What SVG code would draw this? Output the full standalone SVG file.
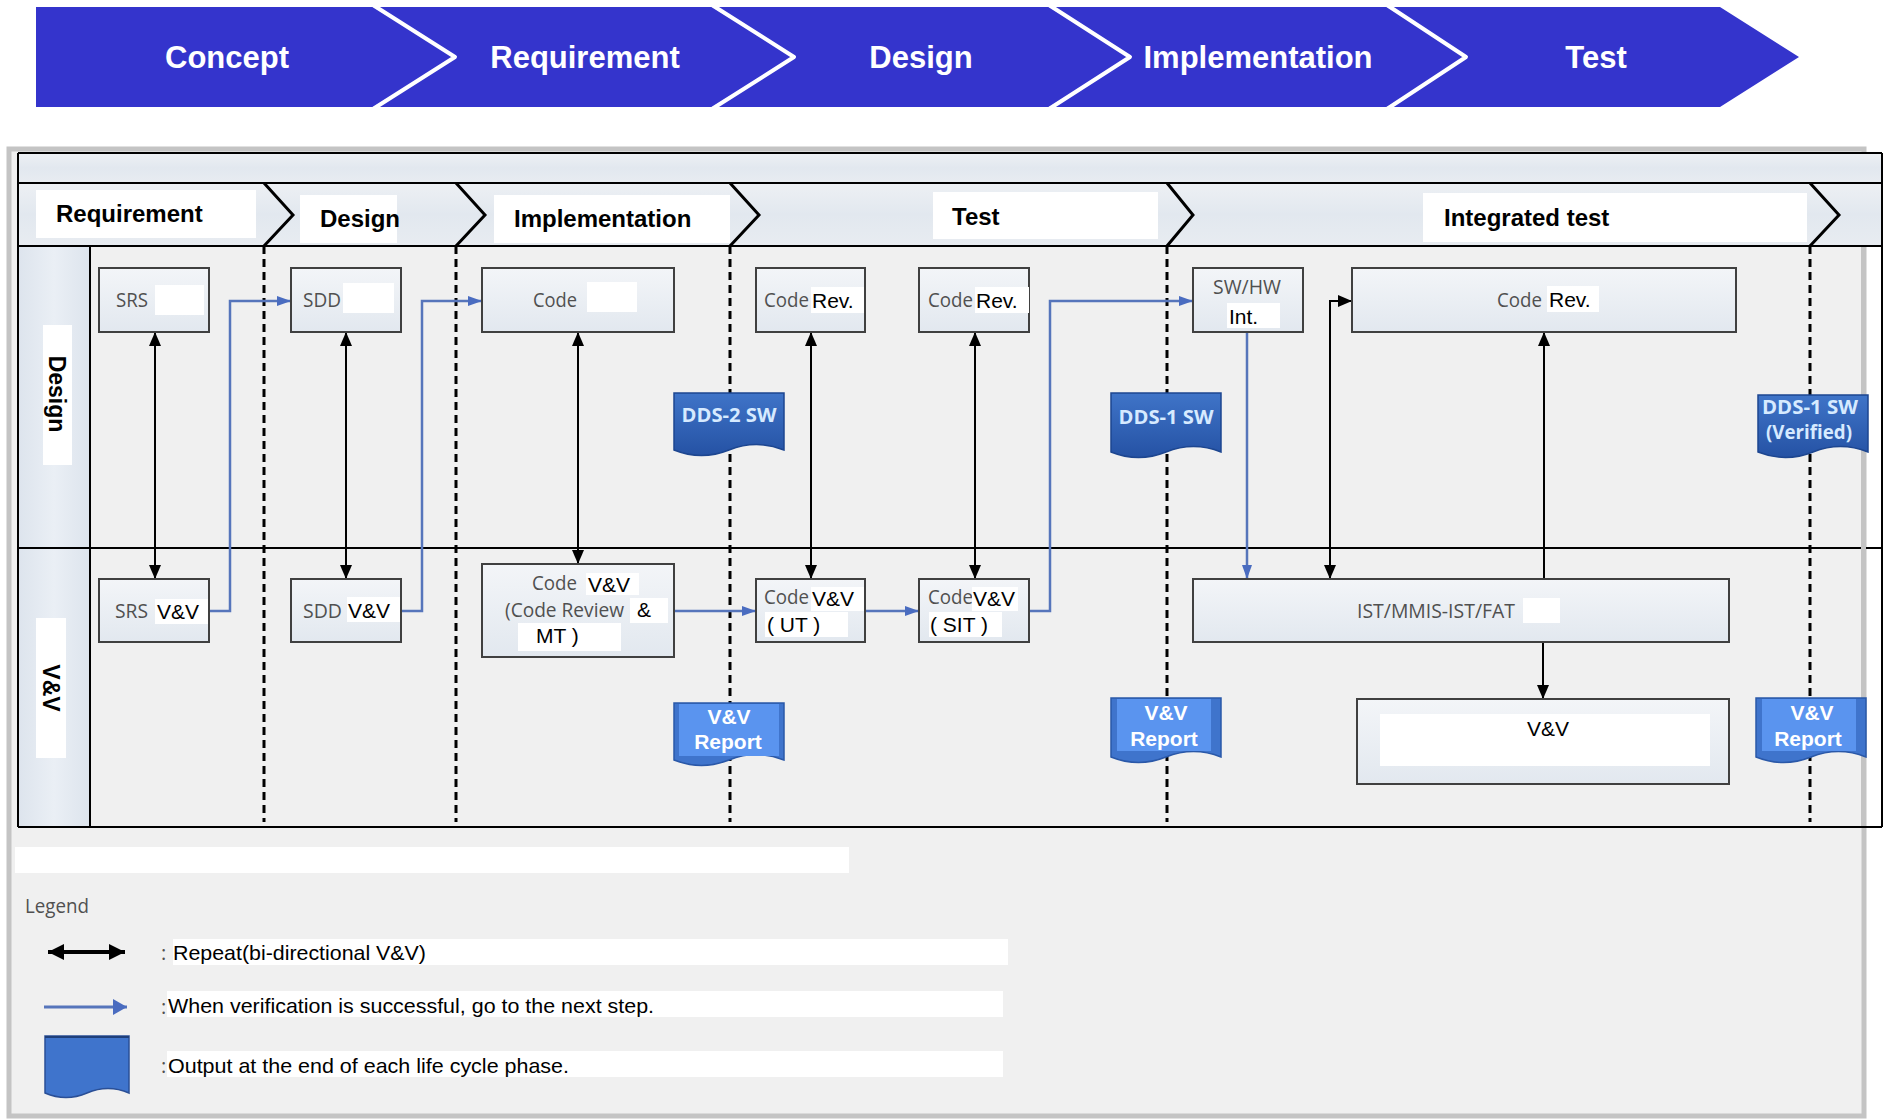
<svg xmlns="http://www.w3.org/2000/svg" width="1888" height="1119" viewBox="0 0 1888 1119">
  <defs>
    <linearGradient id="boxg" x1="0" y1="0" x2="0" y2="1">
      <stop offset="0" stop-color="#f3f5f8"/>
      <stop offset="1" stop-color="#e2e8ef"/>
    </linearGradient>
    <linearGradient id="hdrg" x1="0" y1="0" x2="0" y2="1">
      <stop offset="0" stop-color="#edf0f4"/>
      <stop offset="0.5" stop-color="#e2e8ef"/>
      <stop offset="1" stop-color="#e8ecf1"/>
    </linearGradient>
    <linearGradient id="laneg" x1="0" y1="0" x2="1" y2="0">
      <stop offset="0" stop-color="#dde4ed"/>
      <stop offset="0.5" stop-color="#eaeff5"/>
      <stop offset="1" stop-color="#dde4ed"/>
    </linearGradient>
    <linearGradient id="ddsg" x1="0" y1="0" x2="0" y2="1">
      <stop offset="0" stop-color="#3f74c8"/>
      <stop offset="1" stop-color="#2552a4"/>
    </linearGradient>
    <marker id="ah" viewBox="0 0 14 12" refX="14" refY="6" markerWidth="14" markerHeight="12" markerUnits="userSpaceOnUse" orient="auto-start-reverse">
      <path d="M0,0 L14,6 L0,12 z" fill="#000"/>
    </marker>
    <marker id="ahb" viewBox="0 0 14 10" refX="14" refY="5" markerWidth="14" markerHeight="10" markerUnits="userSpaceOnUse" orient="auto">
      <path d="M0,0 L14,5 L0,10 z" fill="#4a6cc0"/>
    </marker>
    <marker id="ahbL" viewBox="0 0 14 16" refX="14" refY="8" markerWidth="14" markerHeight="16" markerUnits="userSpaceOnUse" orient="auto">
      <path d="M0,0 L14,8 L0,16 z" fill="#4a6cc0"/>
    </marker>
    <marker id="ahL" viewBox="0 0 16 16" refX="16" refY="8" markerWidth="16" markerHeight="16" markerUnits="userSpaceOnUse" orient="auto-start-reverse">
      <path d="M0,0 L16,8 L0,16 z" fill="#000"/>
    </marker>
    <style>
      .ban { font-family: "Liberation Sans", Arial, sans-serif; font-weight: bold; font-size: 31px; fill: #fff; text-anchor: middle; }
      .seg { fill: #3434cc; }
      .sep { fill: none; stroke: #fff; stroke-width: 4; stroke-linejoin: round; }
      .tline { fill: none; stroke: #000; stroke-width: 2; }
      .chev { fill: none; stroke: #000; stroke-width: 3; }
      .hd { font-family: "Liberation Sans", Arial, sans-serif; font-weight: bold; font-size: 24px; fill: #000; }
      .lane { font-family: "Liberation Sans", Arial, sans-serif; font-weight: bold; font-size: 23px; fill: #000; text-anchor: middle; }
      .box { fill: url(#boxg); stroke: #404040; stroke-width: 2; }
      .patch { fill: #fff; }
      .g { font-family: "Open Sans", "Liberation Sans", sans-serif; font-size: 20px; fill: #505050; }
      .k { font-family: "Liberation Sans", Arial, sans-serif; font-size: 21px; fill: #000; }
      .dash { stroke: #000; stroke-width: 3; stroke-dasharray: 8 5; }
      .blk { fill: none; stroke: #000; stroke-width: 2; }
      .blu { fill: none; stroke: #5675bb; stroke-width: 2.5; }
      .dds { fill: url(#ddsg); stroke: #1d4690; stroke-width: 1.5; }
      .ddst { font-family: "Open Sans", "Liberation Sans", sans-serif; font-weight: bold; font-size: 19px; fill: #d6eaff; text-anchor: middle; }
      .rep { fill: #3f74cc; stroke: #2a58a8; stroke-width: 1.5; }
      .repin { fill: #5a94ef; }
      .rept { font-family: "Liberation Sans", Arial, sans-serif; font-weight: bold; font-size: 21px; fill: #fff; text-anchor: middle; }
    </style>
  </defs>

  <!-- life-cycle phase banner -->
  <g id="banner">
    <polygon class="seg" points="36,7 373,7 455,57 373,107 36,107"/>
    <polygon class="seg" points="373,7 712,7 794,57 712,107 373,107 455,57"/>
    <polygon class="seg" points="712,7 1049,7 1130,57 1049,107 712,107 794,57"/>
    <polygon class="seg" points="1049,7 1387,7 1466,57 1387,107 1049,107 1130,57"/>
    <polygon class="seg" points="1387,7 1720,7 1799,57 1720,107 1387,107 1466,57"/>
    <polyline class="sep" points="373,5 455,57 373,109"/>
    <polyline class="sep" points="712,5 794,57 712,109"/>
    <polyline class="sep" points="1049,5 1130,57 1049,109"/>
    <polyline class="sep" points="1387,5 1466,57 1387,109"/>
    <text class="ban" x="227" y="68">Concept</text>
    <text class="ban" x="585" y="68">Requirement</text>
    <text class="ban" x="921" y="68">Design</text>
    <text class="ban" x="1258" y="68">Implementation</text>
    <text class="ban" x="1596" y="68">Test</text>
  </g>

  <!-- outer frame -->
  <rect x="9" y="149" width="1855" height="967" fill="#f0f0f0" stroke="#c4c4c4" stroke-width="5"/>

  <!-- swimlane table -->
  <g id="table">
    <rect x="18" y="153" width="1864" height="30" fill="url(#hdrg)"/>
    <rect x="18" y="183" width="1864" height="63" fill="url(#hdrg)"/>
    <rect x="18" y="246" width="72" height="581" fill="url(#laneg)"/>
    <line class="tline" x1="18" y1="153" x2="1882" y2="153"/>
    <line class="tline" x1="18" y1="183" x2="1882" y2="183"/>
    <line class="tline" x1="18" y1="246" x2="1882" y2="246"/>
    <line class="tline" x1="18" y1="548" x2="1882" y2="548"/>
    <line class="tline" x1="18" y1="827" x2="1882" y2="827"/>
    <line class="tline" x1="18" y1="153" x2="18" y2="827"/>
    <line class="tline" x1="1882" y1="153" x2="1882" y2="827"/>
    <line class="tline" x1="90" y1="246" x2="90" y2="827"/>

    <!-- phase headers -->
    <rect class="patch" x="36" y="190" width="220" height="48"/>
    <rect class="patch" x="300" y="195" width="97" height="48"/>
    <rect class="patch" x="494" y="195" width="236" height="48"/>
    <rect class="patch" x="933" y="192" width="225" height="47"/>
    <rect class="patch" x="1423" y="193" width="384" height="49"/>
    <text class="hd" x="56" y="222">Requirement</text>
    <text class="hd" x="320" y="227">Design</text>
    <text class="hd" x="514" y="227">Implementation</text>
    <text class="hd" x="952" y="225">Test</text>
    <text class="hd" x="1444" y="226">Integrated test</text>
    <polyline class="chev" points="264,183 293,215 264,246"/>
    <polyline class="chev" points="456,183 485,215 456,246"/>
    <polyline class="chev" points="730,183 759,215 730,246"/>
    <polyline class="chev" points="1167,183 1193,215 1167,246"/>
    <polyline class="chev" points="1810,183 1839,215 1810,246"/>

    <!-- lane labels -->
    <rect class="patch" x="43" y="325" width="29" height="140"/>
    <text class="lane" transform="translate(57,394) rotate(90)" dy="8">Design</text>
    <rect class="patch" x="36" y="618" width="30" height="140"/>
    <text class="lane" transform="translate(51,688) rotate(90)" dy="8">V&amp;V</text>

    <!-- phase boundaries -->
    <line class="dash" x1="264" y1="246" x2="264" y2="822"/>
    <line class="dash" x1="456" y1="246" x2="456" y2="822"/>
    <line class="dash" x1="730" y1="246" x2="730" y2="822"/>
    <line class="dash" x1="1167" y1="246" x2="1167" y2="822"/>
    <line class="dash" x1="1810" y1="246" x2="1810" y2="822"/>
    <!-- frame edge seen through the lanes -->
    <rect x="1861" y="247" width="5" height="579" fill="#c4c4c4"/>
  </g>

  <!-- connectors -->
  <g id="connectors">
    <line class="blk" x1="155" y1="332" x2="155" y2="579" marker-start="url(#ah)" marker-end="url(#ah)"/>
    <line class="blk" x1="346" y1="332" x2="346" y2="579" marker-start="url(#ah)" marker-end="url(#ah)"/>
    <line class="blk" x1="578" y1="332" x2="578" y2="564" marker-start="url(#ah)" marker-end="url(#ah)"/>
    <line class="blk" x1="811" y1="332" x2="811" y2="579" marker-start="url(#ah)" marker-end="url(#ah)"/>
    <line class="blk" x1="975" y1="332" x2="975" y2="579" marker-start="url(#ah)" marker-end="url(#ah)"/>
    <polyline class="blk" points="1330,579 1330,301 1352,301" marker-start="url(#ah)" marker-end="url(#ah)"/>
    <line class="blk" x1="1544" y1="579" x2="1544" y2="332" marker-end="url(#ah)"/>
    <line class="blk" x1="1543" y1="642" x2="1543" y2="699" marker-end="url(#ah)"/>

    <polyline class="blu" points="209,611 230,611 230,301 291,301" marker-end="url(#ahb)"/>
    <polyline class="blu" points="401,611 422,611 422,301 482,301" marker-end="url(#ahb)"/>
    <line class="blu" x1="674" y1="611" x2="756" y2="611" marker-end="url(#ahb)"/>
    <line class="blu" x1="865" y1="611" x2="919" y2="611" marker-end="url(#ahb)"/>
    <polyline class="blu" points="1029,611 1050,611 1050,301 1193,301" marker-end="url(#ahb)"/>
    <line class="blu" x1="1247" y1="332" x2="1247" y2="579" marker-end="url(#ahb)"/>
  </g>

  <!-- design lane -->
  <g id="srs">
    <rect class="box" x="99" y="268" width="110" height="64"/>
    <text class="g" x="116" y="307" textLength="32" lengthAdjust="spacingAndGlyphs">SRS</text>
    <rect class="patch" x="155" y="285" width="49" height="30"/>
  </g>
  <g id="sdd">
    <rect class="box" x="291" y="268" width="110" height="64"/>
    <text class="g" x="303" y="307" textLength="38" lengthAdjust="spacingAndGlyphs">SDD</text>
    <rect class="patch" x="343" y="283" width="51" height="30"/>
  </g>
  <g id="code">
    <rect class="box" x="482" y="268" width="192" height="64"/>
    <text class="g" x="533" y="307" textLength="44" lengthAdjust="spacingAndGlyphs">Code</text>
    <rect class="patch" x="587" y="282" width="50" height="30"/>
  </g>
  <g id="code-rev-ut">
    <rect class="box" x="756" y="268" width="109" height="64"/>
    <text class="g" x="764" y="307" textLength="45" lengthAdjust="spacingAndGlyphs">Code</text>
    <rect class="patch" x="811" y="287" width="53" height="26"/>
    <text class="k" x="812" y="308">Rev.</text>
  </g>
  <g id="code-rev-sit">
    <rect class="box" x="919" y="268" width="110" height="64"/>
    <text class="g" x="928" y="307" textLength="45" lengthAdjust="spacingAndGlyphs">Code</text>
    <rect class="patch" x="975" y="287" width="54" height="26"/>
    <text class="k" x="976" y="308">Rev.</text>
  </g>
  <g id="sw-hw-int">
    <rect class="box" x="1193" y="268" width="110" height="64"/>
    <text class="g" x="1247" y="294" text-anchor="middle" textLength="68" lengthAdjust="spacingAndGlyphs">SW/HW</text>
    <rect class="patch" x="1227" y="303" width="53" height="25"/>
    <text class="k" x="1229" y="324">Int.</text>
  </g>
  <g id="code-rev-int">
    <rect class="box" x="1352" y="268" width="384" height="64"/>
    <text class="g" x="1497" y="307" textLength="45" lengthAdjust="spacingAndGlyphs">Code</text>
    <rect class="patch" x="1547" y="286" width="52" height="26"/>
    <text class="k" x="1549" y="307">Rev.</text>
  </g>

  <!-- V&V lane -->
  <g id="srs-vv">
    <rect class="box" x="99" y="579" width="110" height="63"/>
    <text class="g" x="115" y="618" textLength="33" lengthAdjust="spacingAndGlyphs">SRS</text>
    <rect class="patch" x="155" y="599" width="53" height="25"/>
    <text class="k" x="157" y="619">V&amp;V</text>
  </g>
  <g id="sdd-vv">
    <rect class="box" x="291" y="579" width="110" height="63"/>
    <text class="g" x="303" y="618" textLength="39" lengthAdjust="spacingAndGlyphs">SDD</text>
    <rect class="patch" x="347" y="597" width="53" height="25"/>
    <text class="k" x="348" y="618">V&amp;V</text>
  </g>
  <g id="code-vv">
    <rect class="box" x="482" y="564" width="192" height="93"/>
    <text class="g" x="532" y="590" textLength="45" lengthAdjust="spacingAndGlyphs">Code</text>
    <rect class="patch" x="586" y="573" width="53" height="22"/>
    <text class="k" x="588" y="592">V&amp;V</text>
    <text class="g" x="505" y="617" textLength="119" lengthAdjust="spacingAndGlyphs">(Code Review</text>
    <rect class="patch" x="630" y="598" width="38" height="25"/>
    <text class="k" x="637" y="617">&amp;</text>
    <rect class="patch" x="518" y="623" width="103" height="28"/>
    <text class="k" x="536" y="643">MT )</text>
  </g>
  <g id="code-vv-ut">
    <rect class="box" x="756" y="579" width="109" height="63"/>
    <text class="g" x="764" y="604" textLength="45" lengthAdjust="spacingAndGlyphs">Code</text>
    <rect class="patch" x="811" y="587" width="53" height="24"/>
    <text class="k" x="812" y="606">V&amp;V</text>
    <rect class="patch" x="765" y="612" width="83" height="25"/>
    <text class="k" x="767" y="632">( UT )</text>
  </g>
  <g id="code-vv-sit">
    <rect class="box" x="919" y="579" width="110" height="63"/>
    <text class="g" x="928" y="604" textLength="45" lengthAdjust="spacingAndGlyphs">Code</text>
    <rect class="patch" x="972" y="587" width="46" height="24"/>
    <text class="k" x="973" y="606">V&amp;V</text>
    <rect class="patch" x="929" y="612" width="73" height="25"/>
    <text class="k" x="930" y="632">( SIT )</text>
  </g>
  <g id="ist">
    <rect class="box" x="1193" y="579" width="536" height="63"/>
    <text class="g" x="1357" y="618" textLength="158" lengthAdjust="spacingAndGlyphs">IST/MMIS-IST/FAT</text>
    <rect class="patch" x="1523" y="598" width="37" height="25"/>
  </g>
  <g id="int-vv">
    <rect class="box" x="1357" y="699" width="372" height="85"/>
    <rect class="patch" x="1380" y="714" width="330" height="52"/>
    <text class="k" x="1527" y="736">V&amp;V</text>
  </g>

  <!-- phase outputs -->
  <g id="dds2-sw">
    <path class="dds" d="M674,393 H784 V450 Q756.5,439 729,450 T674,450 Z"/>
    <text class="ddst" x="729" y="422" textLength="95" lengthAdjust="spacingAndGlyphs">DDS-2 SW</text>
  </g>
  <g id="dds1-sw">
    <path class="dds" d="M1111,393 H1221 V452 Q1193.5,441 1166,452 T1111,452 Z"/>
    <text class="ddst" x="1166" y="424" textLength="95" lengthAdjust="spacingAndGlyphs">DDS-1 SW</text>
  </g>
  <g id="dds1-sw-verified">
    <path class="dds" d="M1758,395 H1868 V452 Q1840.5,441 1813,452 T1758,452 Z"/>
    <text class="ddst" x="1810" y="414" textLength="96" lengthAdjust="spacingAndGlyphs">DDS-1 SW</text>
    <text class="ddst" x="1809" y="439" font-weight="normal" textLength="86" lengthAdjust="spacingAndGlyphs">(Verified)</text>
  </g>
  <g id="vv-report-1">
    <path class="rep" d="M674,703 H784 V760 Q756.5,749 729,760 T674,760 Z"/>
    <rect class="repin" x="679" y="704" width="100" height="52"/>
    <text class="rept" x="729" y="724">V&amp;V</text>
    <text class="rept" x="728" y="749">Report</text>
  </g>
  <g id="vv-report-2">
    <path class="rep" d="M1111,698 H1221 V757 Q1193.5,746 1166,757 T1111,757 Z"/>
    <rect class="repin" x="1117" y="699" width="94" height="52"/>
    <text class="rept" x="1166" y="720">V&amp;V</text>
    <text class="rept" x="1164" y="746">Report</text>
  </g>
  <g id="vv-report-3">
    <path class="rep" d="M1756,698 H1866 V757 Q1838.5,746 1811,757 T1756,757 Z"/>
    <rect class="repin" x="1762" y="699" width="94" height="52"/>
    <text class="rept" x="1812" y="720">V&amp;V</text>
    <text class="rept" x="1808" y="746">Report</text>
  </g>

  <!-- legend -->
  <g id="legend">
    <rect class="patch" x="15" y="847" width="834" height="26"/>
    <text class="g" x="25" y="913" font-size="20" textLength="64" lengthAdjust="spacingAndGlyphs">Legend</text>
    <line x1="48" y1="952" x2="125" y2="952" stroke="#000" stroke-width="4" marker-start="url(#ahL)" marker-end="url(#ahL)"/>
    <line x1="44" y1="1007" x2="127" y2="1007" stroke="#5675bb" stroke-width="3" marker-end="url(#ahbL)"/>
    <path d="M45,1036 H129 V1093 Q108,1084 87,1093 T45,1093 Z" fill="#3f74cc" stroke="#2a4f96" stroke-width="1.5"/>
    <line x1="45" y1="1037" x2="129" y2="1037" stroke="#1f3f7a" stroke-width="2"/>
    <text class="g" x="161" y="960" font-size="16">:</text>
    <text class="g" x="161" y="1014" font-size="16">:</text>
    <text class="g" x="161" y="1073" font-size="16">:</text>
    <rect class="patch" x="173" y="939" width="835" height="26"/>
    <text class="k" x="173" y="960" textLength="253" lengthAdjust="spacingAndGlyphs">Repeat(bi-directional V&amp;V)</text>
    <rect class="patch" x="167" y="991" width="836" height="26"/>
    <text class="k" x="168" y="1013" textLength="486" lengthAdjust="spacingAndGlyphs">When verification is successful, go to the next step.</text>
    <rect class="patch" x="167" y="1051" width="836" height="26"/>
    <text class="k" x="168" y="1073" textLength="401" lengthAdjust="spacingAndGlyphs">Output at the end of each life cycle phase.</text>
  </g>
</svg>
